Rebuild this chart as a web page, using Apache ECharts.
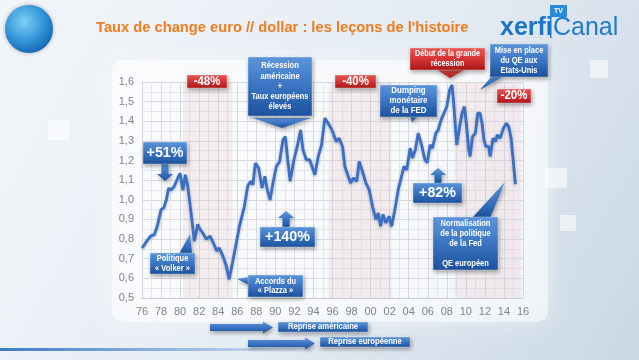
<!DOCTYPE html>
<html><head><meta charset="utf-8">
<script src="https://cdn.jsdelivr.net/npm/echarts@6/dist/echarts.min.js"></script>
<style>html,body{margin:0;padding:0;background:#e6edf4;}#c{width:639px;height:360px;}</style>
</head><body><div id="c"></div>
<script>
// ---- data (EUR/USD, synthetic euro before 1999) ----
const years = [1976.0,1976.2,1976.5,1976.9,1977.3,1977.6,1978.0,1978.3,1978.55,1978.8,1979.05,1979.4,1979.75,1980.0,1980.3,1980.55,1980.8,1981.15,1981.5,1981.85,1982.1,1982.4,1982.75,1983.15,1983.5,1983.85,1984.1,1984.5,1984.85,1985.15,1985.5,1985.9,1986.25,1986.75,1987.1,1987.4,1987.65,1987.9,1988.25,1988.6,1988.9,1989.15,1989.45,1989.75,1990.1,1990.45,1990.8,1991.05,1991.3,1991.55,1991.95,1992.3,1992.65,1992.9,1993.25,1993.6,1993.85,1994.15,1994.5,1994.85,1995.2,1995.55,1995.95,1996.4,1996.7,1997.05,1997.3,1997.65,1997.9,1998.2,1998.55,1998.8,1999.15,1999.5,1999.85,2000.2,2000.55,2000.8,2001.05,2001.3,2001.6,2001.95,2002.2,2002.55,2002.9,2003.25,2003.5,2003.8,2004.15,2004.4,2004.7,2005.0,2005.35,2005.7,2005.95,2006.25,2006.5,2006.85,2007.1,2007.4,2007.7,2008.0,2008.3,2008.55,2008.7,2008.9,2009.05,2009.35,2009.6,2009.85,2010.05,2010.3,2010.45,2010.7,2011.0,2011.25,2011.5,2011.7,2011.9,2012.1,2012.4,2012.55,2012.85,2013.1,2013.3,2013.6,2013.95,2014.25,2014.5,2014.75,2014.95,2015.2];
const rates = [0.755,0.767,0.79,0.815,0.823,0.865,0.95,0.96,1.0,1.06,1.05,1.07,1.11,1.135,1.05,1.128,1.07,0.935,0.79,0.875,0.85,0.83,0.80,0.815,0.78,0.74,0.756,0.713,0.663,0.595,0.68,0.78,0.87,0.967,1.07,1.094,1.077,1.187,1.162,1.06,1.12,1.052,1.0,1.086,1.17,1.195,1.306,1.322,1.204,1.095,1.204,1.272,1.356,1.255,1.204,1.204,1.17,1.128,1.221,1.28,1.416,1.39,1.356,1.297,1.314,1.272,1.17,1.12,1.086,1.111,1.094,1.195,1.145,1.086,1.052,0.967,0.9,0.933,0.865,0.925,0.883,0.916,0.865,0.95,1.052,1.12,1.17,1.153,1.263,1.213,1.255,1.34,1.28,1.205,1.19,1.28,1.263,1.34,1.356,1.407,1.441,1.475,1.56,1.585,1.509,1.373,1.28,1.373,1.441,1.475,1.39,1.255,1.221,1.322,1.34,1.441,1.441,1.39,1.306,1.272,1.272,1.221,1.314,1.297,1.331,1.314,1.365,1.39,1.373,1.314,1.213,1.08];
const bandStarts = [1980.3, 1995.6, 2008.8];
const bandEnds = [1985.5, 2002.2, 2015.8];
const xMin = 1976, xMax = 2016, xStep = 2;
const yMin = 0.5, yMax = 1.6, yStep = 0.1;

const F = '"Liberation Sans", Arial, sans-serif';
const chart = echarts.init(document.getElementById('c'), null, {renderer: 'canvas'});
const LG = echarts.graphic.LinearGradient;
const blueG = () => new LG(0,0,0,1,[{offset:0,color:'#5e98de'},{offset:0.5,color:'#3a74c2'},{offset:1,color:'#1c519c'}]);
const redG = () => new LG(0,0,0,1,[{offset:0,color:'#ec5a55'},{offset:0.5,color:'#d63434'},{offset:1,color:'#a81616'}]);
const shadow = {shadowBlur: 4, shadowColor: 'rgba(0,0,0,0.35)', shadowOffsetX: 1, shadowOffsetY: 2};

function box(x, y, w, h, fill, lines, fs, lh, sx) {
  const els = [{type:'rect', z:10, shape:{x, y, width:w, height:h},
    style:Object.assign({fill, stroke:'rgba(255,255,255,0.55)', lineWidth:0.6}, shadow)}];
  const n = lines.length, top = y + h/2 - (n-1)*lh/2;
  lines.forEach((t,i) => els.push({type:'text', z:11, x:x+w/2, y:top+i*lh, scaleX:sx||0.85,
    style:{text:t, fill:'#ffffff', font:`bold ${fs}px ${F}`, align:'center', verticalAlign:'middle'}}));
  return els;
}
function poly(points, fill, z) {
  return {type:'polygon', z:z||9, shape:{points}, style:Object.assign({fill}, shadow)};
}
function upArrow(cx, top, bottom) {
  const hh = 7, hw = 8, sw = 3.5;
  return poly([[cx,top],[cx+hw,top+hh],[cx+sw,top+hh],[cx+sw,bottom],[cx-sw,bottom],[cx-sw,top+hh],[cx-hw,top+hh]], blueG());
}
function downArrow(cx, top, bottom) {
  const hh = 7, hw = 8, sw = 3.5;
  return poly([[cx,bottom],[cx+hw,bottom-hh],[cx+sw,bottom-hh],[cx+sw,top],[cx-sw,top],[cx-sw,bottom-hh],[cx-hw,bottom-hh]], blueG());
}
function rightArrow(x0, x1, cy) {
  const hl = 10, hw = 6, sw = 3.5;
  return poly([[x1,cy],[x1-hl,cy-hw],[x1-hl,cy-sw],[x0,cy-sw],[x0,cy+sw],[x1-hl,cy+sw],[x1-hl,cy+hw]], blueG());
}

const g = [];
// background panel & decorations
g.push({type:'rect', z:-10, shape:{x:0,y:0,width:639,height:360}, style:{fill:new LG(0,0,1,1,[{offset:0,color:'#f2f6fa'},{offset:0.55,color:'#e4ebf2'},{offset:1,color:'#c9d7e5'}])}});
g.push({type:'rect', z:-9, shape:{x:112,y:60,width:436,height:262,r:10}, style:{fill:'rgba(255,255,255,0.5)', shadowBlur:25, shadowColor:'rgba(255,255,255,0.9)'}});
[[48,120,22,20],[545,168,22,20],[560,215,16,16],[590,60,18,18],[250,300,18,14]].forEach(r=>
  g.push({type:'rect', z:-8, shape:{x:r[0],y:r[1],width:r[2],height:r[3]}, style:{fill:'rgba(255,255,255,0.55)'}}));
g.push({type:'rect', z:-8, shape:{x:0,y:348,width:330,height:3}, style:{fill:new LG(0,0,1,0,[{offset:0,color:'rgba(40,110,190,0.9)'},{offset:1,color:'rgba(40,110,190,0)'}])}});
// round logo
g.push({type:'circle', z:5, shape:{cx:29,cy:29,r:24}, style:{fill:new echarts.graphic.RadialGradient(0.4,0.35,0.7,[{offset:0,color:'#7fd0f5'},{offset:0.6,color:'#2f93d8'},{offset:1,color:'#1564b0'}]), shadowBlur:4, shadowColor:'rgba(0,0,0,0.3)'}});
// title
g.push({type:'text', z:5, x:96, y:28, scaleX:0.98, style:{text:"Taux de change euro // dollar : les leçons de l'histoire", fill:'#f07d1e', font:`bold 15px ${F}`, align:'left', verticalAlign:'middle'}});
// xerfi Canal logo
g.push({type:'text', z:5, x:500, y:28, style:{text:'xerfi', fill:'#1a74c8', font:`bold 25px ${F}`, align:'left', verticalAlign:'middle'}});
g.push({type:'rect', z:5, shape:{x:550,y:16,width:1.5,height:22}, style:{fill:'#1e7bd0'}});
g.push({type:'text', z:5, x:553, y:28, style:{text:'Canal', fill:'#1e7bd0', font:`25px ${F}`, align:'left', verticalAlign:'middle'}});
g.push({type:'rect', z:5, shape:{x:550,y:5,width:17,height:12}, style:{fill:'#2a8ad8'}});
g.push({type:'text', z:6, x:558.5, y:11, style:{text:'TV', fill:'#fff', font:`bold 7px ${F}`, align:'center', verticalAlign:'middle'}});

// annotations
g.push(...box(143,142,44,22,blueG(),['+51%'],15,10,0.95));
g.push(downArrow(165,164,181));
g.push(...box(187,75,40,13,redG(),['-48%'],12,10,0.95));
g.push(...box(248,57,64,59,blueG(),['Récession','américaine','+','Taux européens','élevés'],8.5,10.2,0.88));
g.push(poly([[253,118],[311,118],[282,128]], blueG()));
g.push(...box(260,227,55,20,blueG(),['+140%'],15,10,0.95));
g.push(upArrow(286,211,227));
g.push(poly([[179,254],[192,254],[190,234]], blueG()));
g.push(...box(150,253,45,21,blueG(),['Politique','« Volker »'],8.5,9.5,0.88));
g.push(poly([[249,277],[249,285],[237,279]], blueG()));
g.push(...box(248,275,55,22,blueG(),['Accords du','« Plazza »'],8.5,9.5,0.88));
g.push(...box(335,75,41,13,redG(),['-40%'],12,10,0.95));
g.push(poly([[410,116],[418,116],[412,122]], blueG()));
g.push(...box(380,85,57,32,blueG(),['Dumping','monétaire','de la FED'],9,10,0.88));
g.push(poly([[436,69],[466,69],[450,78]], redG()));
g.push(...box(410,48,75,22,redG(),['Début de la grande','récession'],8.5,10,0.85));
g.push(poly([[492,76],[504,76],[480,90]], blueG()));
g.push(...box(490,44,58,33,blueG(),['Mise en place','du QE aux','Etats-Unis'],8.5,10,0.88));
g.push(...box(497,89,34,14,redG(),['-20%'],12,10,0.95));
g.push(...box(413,183,49,20,blueG(),['+82%'],15,10,0.95));
g.push(upArrow(438,168,183));
g.push(poly([[472,218],[490,218],[505,182]], blueG()));
g.push(...box(433,217,65,53,blueG(),['Normalisation','de la politique','de la Fed','','QE européen'],8.5,10,0.88));
// bottom arrows
g.push(rightArrow(210,273,327.5));
g.push(...box(278,322,90,10,blueG(),['Reprise américaine'],8.5,10,0.9));
g.push(rightArrow(248,315,343.5));
g.push(...box(320,337,90,10,blueG(),['Reprise européenne'],8.5,10,0.9));

const option = {
  animation: false,
  backgroundColor: 'transparent',
  grid: {left:142, right:116, top:82, bottom:62},
  xAxis: {
    type:'value', min:xMin, max:xMax, interval:xStep,
    axisLine:{show:true, lineStyle:{color:'#c9ced4', width:1}},
    axisTick:{show:false},
    axisLabel:{color:'#7d858e', fontSize:11, fontFamily:F, margin:8, formatter:v=>String(v%100).padStart(2,'0')},
    splitLine:{show:true, lineStyle:{color:'#d6dae0', width:1}},
    minorTick:{show:false, splitNumber:2},
    minorSplitLine:{show:true, lineStyle:{color:'#e3e6ea', width:1}}
  },
  yAxis: {
    type:'value', min:yMin, max:yMax, interval:yStep,
    axisLine:{show:true, lineStyle:{color:'#d0d4d9', width:1}},
    axisTick:{show:false},
    axisLabel:{color:'#7d858e', fontSize:11, fontFamily:F, margin:8, formatter:v=>v.toFixed(1).replace('.',',')},
    splitLine:{show:true, lineStyle:{color:'#d6dae0', width:1}},
    minorTick:{show:false, splitNumber:2},
    minorSplitLine:{show:true, lineStyle:{color:'#e3e6ea', width:1}}
  },
  series: [{
    type:'line', showSymbol:false, z:3,
    data: years.map((x,i)=>[x, rates[i]]),
    lineStyle:{color:'#3a6fc3', width:2.8, shadowBlur:3, shadowColor:'rgba(20,40,90,0.35)', shadowOffsetY:1},
    markArea:{silent:true, itemStyle:{color:'rgba(225,185,190,0.22)'},
      data: bandStarts.map((s,i)=>[{xAxis:s},{xAxis:bandEnds[i]}])}
  }],
  graphic: g
};
chart.setOption(option);
</script></body></html>
